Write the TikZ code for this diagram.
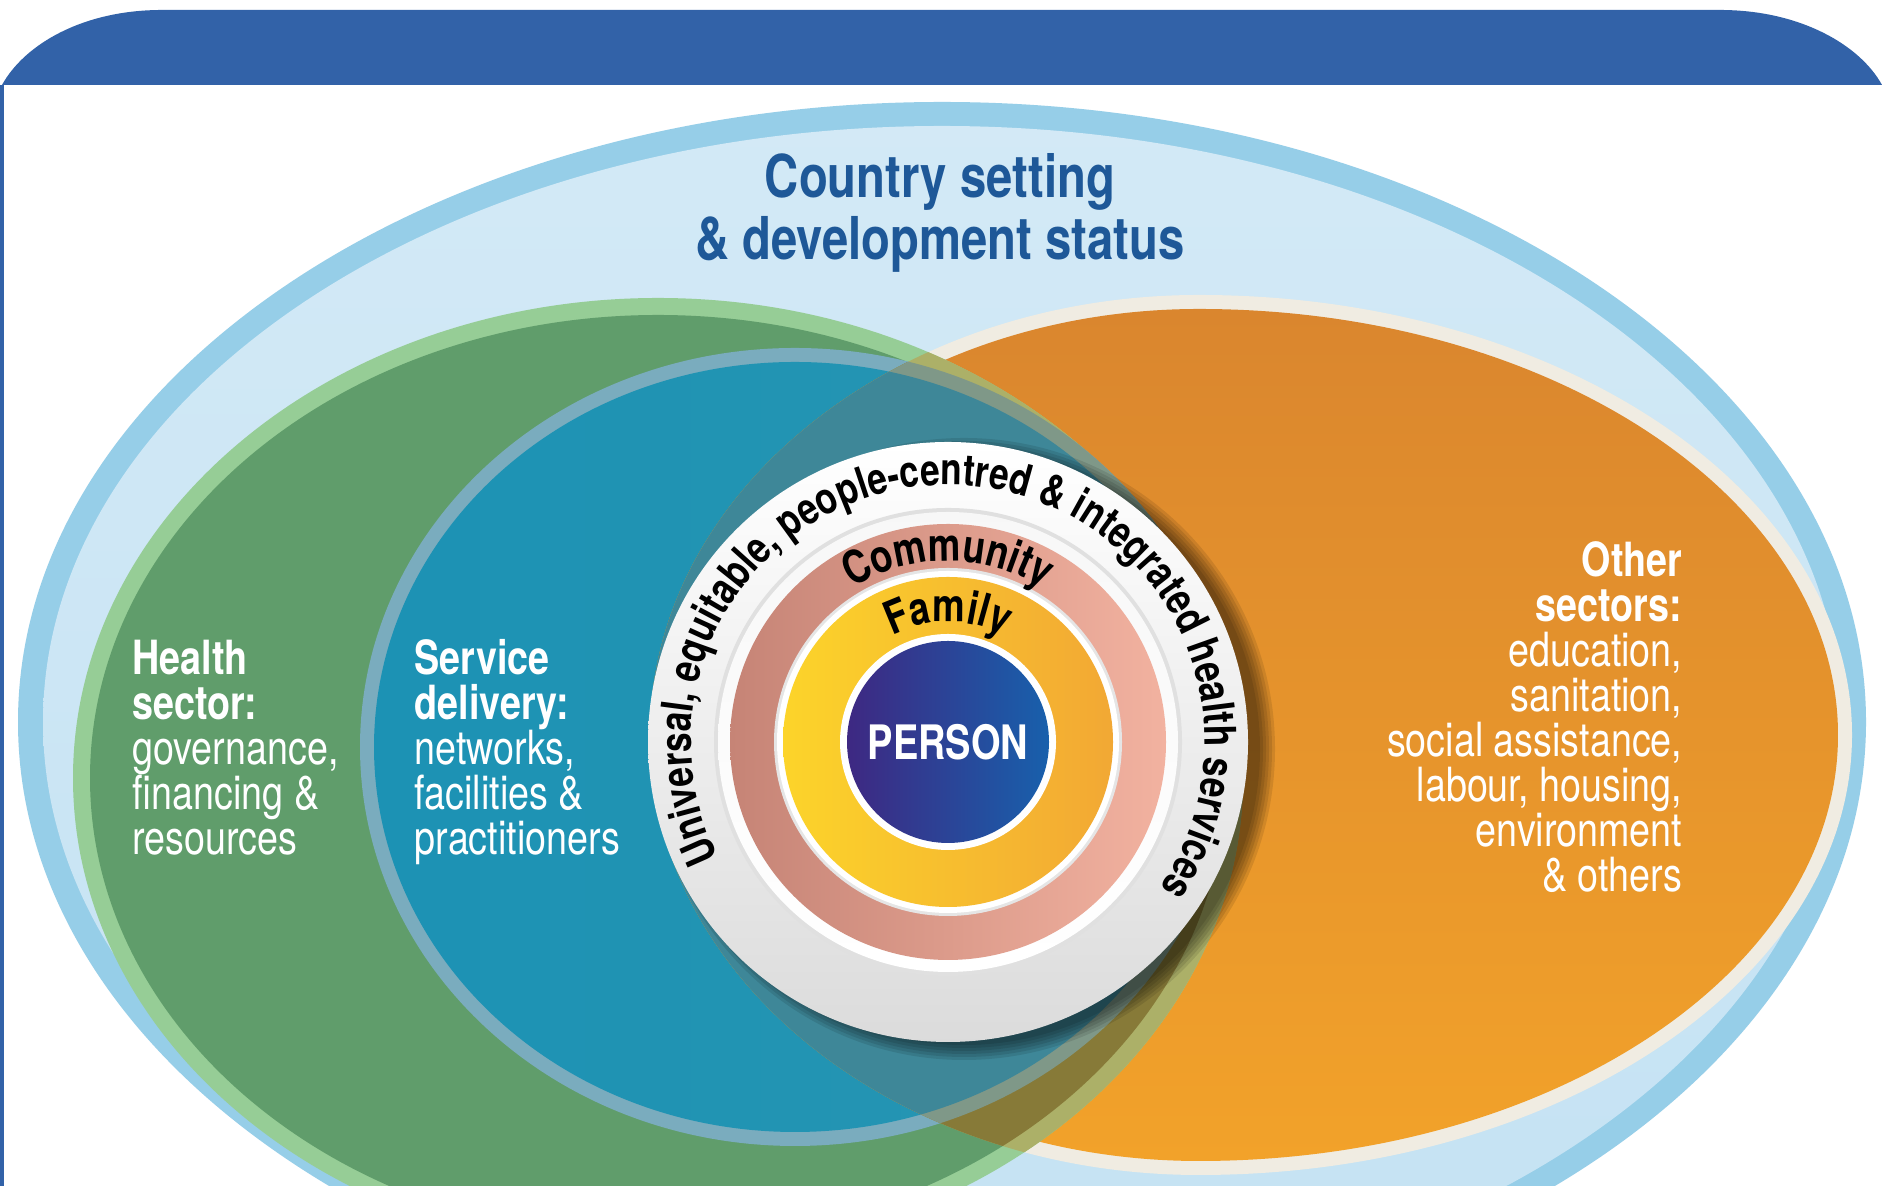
\documentclass[tikz,border=0pt]{standalone}
\usepackage{fontspec}
\usetikzlibrary{decorations.text}
\newfontfamily\condfont{TeX Gyre Heros}[FakeStretch=0.8]

\definecolor{bandblue}{RGB}{50,98,168}
\definecolor{skyrim}{RGB}{150,206,232}
\definecolor{skyfill}{RGB}{196,226,243}
\definecolor{greenrim}{RGB}{150,205,150}
\definecolor{greenbody}{RGB}{96,157,107}
\definecolor{tealrim}{RGB}{122,172,190}
\definecolor{tealleft}{RGB}{28,146,180}
\definecolor{tealright}{RGB}{40,150,178}
\definecolor{orangerim}{RGB}{240,236,226}
\definecolor{orangetop}{RGB}{218,134,46}
\definecolor{orangebot}{RGB}{242,162,42}
\definecolor{olive}{RGB}{135,122,56}
\definecolor{olivelight}{RGB}{172,176,104}
\definecolor{tealdark}{RGB}{62,135,152}
\definecolor{titleblue}{RGB}{30,88,152}
\definecolor{pinkleft}{RGB}{198,132,118}
\definecolor{pinkright}{RGB}{242,178,160}
\definecolor{yellowleft}{RGB}{252,212,42}
\definecolor{yellowright}{RGB}{242,168,52}
\definecolor{navyleft}{RGB}{62,40,130}
\definecolor{navyright}{RGB}{24,96,172}

\newcommand{\ringfont}{\condfont\bfseries\fontsize{12.5}{13}\selectfont}
\newcommand{\circlefont}{\condfont\bfseries\fontsize{13}{14}\selectfont}
% other sectors: flatter on the left
\newcommand{\eggpath}[3]{(1199,451) ++(0,-#3) arc[start angle=-90, end angle=90, x radius=#1, y radius=#3] arc[start angle=90, end angle=270, x radius=#2, y radius=#3] -- cycle}

\begin{document}
\begin{tikzpicture}[x=0.01cm, y=0.01cm,
  sector text/.style={text=white, inner sep=0pt, align=left,
    font={\condfont\fontsize{13.4}{12.8}\selectfont}},
  title text/.style={text=titleblue, inner sep=0pt, align=center,
    font={\condfont\bfseries\fontsize{16.8}{17.6}\selectfont}}]
  \useasboundingbox (0,0) rectangle (1882,1186);
  \fill[white] (0,0) rectangle (1882,1186);

  % Header band and frame
  \fill[bandblue] (2,1101) .. controls (24,1141) and (82,1176) .. (162,1176) -- (1720,1176) .. controls (1800,1176) and (1860,1141) .. (1882,1101) -- cycle;
  \fill[bandblue] (0,0) rectangle (4,1101);

  % Country setting
  \fill[skyrim] (942,464) ellipse [x radius=924, y radius=620];
  \shade[top color=skyfill!75!white, bottom color=skyfill] (942,464) ellipse [x radius=899, y radius=596];

  % Other sectors
  \fill[orangerim] \eggpath{653}{549}{440};
  \shade[top color=orangetop, bottom color=orangebot] \eggpath{639}{535}{426};

  % Health sector
  \fill[greenrim] (658,408) ellipse [x radius=585, y radius=480];
  \fill[greenbody] (658,408) ellipse [x radius=568, y radius=463];

  % Service delivery
  \fill[tealrim] (795,439) ellipse [x radius=435, y radius=399];
  \shade[left color=tealleft, right color=tealright] (795,439) ellipse [x radius=421, y radius=385];

  % Overlaps with other sectors
  \begin{scope}
    \clip \eggpath{653}{549}{440};
    \fill[olivelight] (658,408) ellipse [x radius=585, y radius=480];
    \fill[olive] (658,408) ellipse [x radius=568, y radius=463];
    \fill[tealrim!60!olive] (795,439) ellipse [x radius=435, y radius=399];
    \fill[tealdark] (795,439) ellipse [x radius=421, y radius=385];
  \end{scope}

  % Services circle
  \coordinate (hub) at (948,444);
  \foreach \s in {0,...,5}
    \fill[black, opacity=0.1] ([shift={(16,-7)}]hub) circle[radius=296+3*\s];
  \shade[top color=white, bottom color=black!14] (hub) circle[radius=300];
  \fill[black!12] (hub) circle[radius=234];
  \shade[top color=black!3, bottom color=white] (hub) circle[radius=230];
  \shade[left color=pinkleft, right color=pinkright] (hub) circle[radius=218];
  \fill[black!10] (hub) circle[radius=174];
  \fill[white] (hub) circle[radius=171];
  \shade[left color=yellowleft, right color=yellowright] (hub) circle[radius=165];
  \fill[white] (hub) circle[radius=108];
  \shade[left color=navyleft, right color=navyright] (hub) circle[radius=101];

  % Curved labels
  \path[decorate, decoration={text along path, text align=center,
      text={|\ringfont|Universal, equitable, people-centred {\&} integrated health services}}]
    (hub) ++(221:257) arc[start angle=221, end angle=-49, radius=257];
  \path[decorate, decoration={text along path, text align=center,
      text={|\circlefont|Community}}]
    (hub) ++(150:181) arc[start angle=150, end angle=30, radius=181];
  \path[decorate, decoration={text along path, text align=center,
      text={|\circlefont|Family}}]
    (hub) ++(150:120) arc[start angle=150, end angle=30, radius=120];

  % Labels
  \node[text=white, font={\condfont\bfseries\fontsize{13.5}{14}\selectfont}] (person) at (hub) {PERSON};
  \node[title text, anchor=north] (country) at (940,1033) {Country setting\\\& development status};
  \node[sector text, anchor=north west] (health) at (132,547)
    {\textbf{Health}\\\textbf{sector:}\\governance,\\financing \&\\resources};
  \node[sector text, anchor=north west] (service) at (414,547)
    {\textbf{Service}\\\textbf{delivery:}\\networks,\\facilities \&\\practitioners};
  \node[sector text, align=right, anchor=north east] (other) at (1683,645)
    {\textbf{Other}\\\textbf{sectors:}\\education,\\sanitation,\\social assistance,\\labour, housing,\\environment\\\& others};
\end{tikzpicture}
\end{document}
